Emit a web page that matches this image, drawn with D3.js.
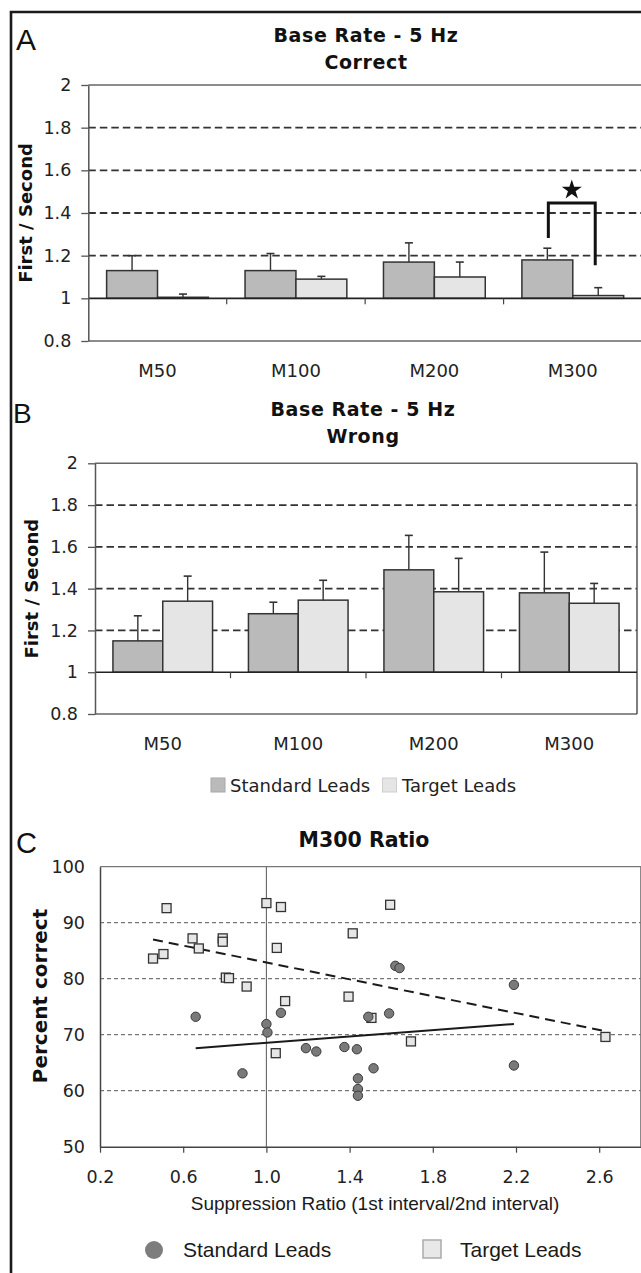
<!DOCTYPE html>
<html>
<head>
<meta charset="utf-8">
<script src="https://cdn.jsdelivr.net/npm/d3@7"></script>
<style>
  html, body { margin: 0; padding: 0; background: #fff; }
  svg { display: block; }
</style>
</head>
<body>
<script>
// ---- Bar chart data (ratio of first to second response) ----
const categories = ["M50", "M100", "M200", "M300"];
const seriesNames = ["Standard Leads", "Target Leads"];
const barTicks = [0.8, 1, 1.2, 1.4, 1.6, 1.8, 2];

const correctStandard = [1.13, 1.13, 1.17, 1.18];
const correctStandardErr = [0.07, 0.08, 0.09, 0.055];
const correctTarget = [1.005, 1.09, 1.10, 1.013];
const correctTargetErr = [0.015, 0.013, 0.07, 0.037];

const wrongStandard = [1.15, 1.28, 1.49, 1.38];
const wrongStandardErr = [0.12, 0.055, 0.165, 0.195];
const wrongTarget = [1.34, 1.345, 1.385, 1.33];
const wrongTargetErr = [0.12, 0.095, 0.16, 0.095];

// significance bracket on M300 (left end, top, right end)
const bracketValues = [1.283, 1.447, 1.155];

// ---- Scatter data: M300 suppression ratio vs percent correct ----
const standardRatio = [0.66, 1.0, 1.005, 1.07, 0.885, 1.19, 1.24, 1.375, 1.435, 1.44, 1.44, 1.44, 1.515, 1.49, 1.59, 1.62, 1.64, 2.19, 2.19];
const standardCorrect = [73.2, 71.9, 70.4, 73.9, 63.1, 67.6, 67.0, 67.8, 67.4, 62.2, 60.3, 59.1, 64.0, 73.2, 73.8, 82.3, 81.9, 78.9, 64.5];
const targetRatio = [0.52, 1.0, 1.07, 0.645, 0.675, 0.79, 0.79, 0.505, 0.455, 1.05, 0.805, 0.82, 0.905, 1.09, 1.045, 1.595, 1.415, 1.395, 1.505, 1.695, 2.63];
const targetCorrect = [92.6, 93.5, 92.8, 87.2, 85.4, 87.2, 86.6, 84.4, 83.6, 85.5, 80.2, 80.1, 78.6, 76.0, 66.7, 93.2, 88.1, 76.8, 73.0, 68.8, 69.6];
const standardFitX = [0.66, 2.19];
const standardFitY = [67.6, 71.9];
const targetFitX = [0.455, 2.62];
const targetFitY = [87.0, 70.7];
const ratioTicks = [0.2, 0.6, 1.0, 1.4, 1.8, 2.2, 2.6];
const correctTicks = [50, 60, 70, 80, 90, 100];

const FONT = "DejaVu Sans, Verdana, sans-serif";
const ARIAL = "Liberation Sans, Arial, sans-serif";
const STD_FILL = "#bababa";
const TGT_FILL = "#e5e5e5";

const W = 641, H = 1273;
const svg = d3.select("body").append("svg").attr("width", W).attr("height", H);
svg.append("rect").attr("width", W).attr("height", H).attr("fill", "#fff");

// outer figure frame
svg.append("path").attr("d", `M11,${H} V12 H${W}`)
  .attr("fill", "none").attr("stroke", "#1a1a1a").attr("stroke-width", 2.6);

function panelLetter(t, x, y, size) {
  svg.append("text").attr("x", x).attr("y", y).text(t)
    .attr("font-family", ARIAL).attr("font-size", size).attr("fill", "#111");
}

function barPanel(o) {
  const g = svg.append("g");
  const x = d3.scaleBand().domain(categories).range([o.x0, o.x1]).padding(0);
  const xs = d3.scaleBand().domain(seriesNames).range([0, x.bandwidth()])
    .paddingInner(0).paddingOuter(0.36);
  const y = d3.scaleLinear().domain([0.8, 2]).range([o.yBottom, o.yTop]);

  // dashed gridlines
  g.selectAll(".grid").data([1.2, 1.4, 1.6, 1.8]).join("line")
    .attr("x1", o.x0).attr("x2", o.x1)
    .attr("y1", d => y(d)).attr("y2", d => y(d))
    .attr("stroke", "#333").attr("stroke-width", 1.8).attr("stroke-dasharray", "7.5,4");

  // plot frame: top, bottom, optional right
  [2, 0.8].forEach(v => g.append("line")
    .attr("x1", o.x0).attr("x2", o.x1).attr("y1", y(v)).attr("y2", y(v))
    .attr("stroke", "#666").attr("stroke-width", 1.5));
  if (o.rightBorder) {
    g.append("line").attr("x1", o.x1).attr("x2", o.x1)
      .attr("y1", y(2)).attr("y2", y(0.8))
      .attr("stroke", "#555").attr("stroke-width", 1.5);
  }

  const rows = [];
  categories.forEach((c, i) => {
    rows.push({ c, s: seriesNames[0], v: o.std[i], e: o.stdErr[i], fill: STD_FILL });
    rows.push({ c, s: seriesNames[1], v: o.tgt[i], e: o.tgtErr[i], fill: TGT_FILL });
  });

  // bars grow from the 1.0 baseline
  g.selectAll(".bar").data(rows).join("rect")
    .attr("x", d => x(d.c) + xs(d.s))
    .attr("width", xs.bandwidth())
    .attr("y", d => y(d.v))
    .attr("height", d => y(1) - y(d.v))
    .attr("fill", d => d.fill).attr("stroke", "#333").attr("stroke-width", 1.5);

  // upper error bars
  const cx = d => x(d.c) + xs(d.s) + xs.bandwidth() / 2;
  g.selectAll(".err").data(rows).join("line")
    .attr("x1", cx).attr("x2", cx)
    .attr("y1", d => y(d.v)).attr("y2", d => y(d.v + d.e))
    .attr("stroke", "#333").attr("stroke-width", 1.4);
  g.selectAll(".cap").data(rows).join("line")
    .attr("x1", d => cx(d) - 4).attr("x2", d => cx(d) + 4)
    .attr("y1", d => y(d.v + d.e)).attr("y2", d => y(d.v + d.e))
    .attr("stroke", "#333").attr("stroke-width", 1.6);

  // baseline at 1
  g.append("line").attr("x1", o.x0).attr("x2", o.x1)
    .attr("y1", y(1)).attr("y2", y(1))
    .attr("stroke", "#222").attr("stroke-width", 1.6);
  // category separators below the baseline
  g.selectAll(".sep").data(categories.slice(1)).join("line")
    .attr("x1", d => x(d)).attr("x2", d => x(d))
    .attr("y1", y(1)).attr("y2", y(1) + 6)
    .attr("stroke", "#444").attr("stroke-width", 1.2);

  // y axis
  const ax = g.append("g").attr("transform", `translate(${o.x0},0)`)
    .call(d3.axisLeft(y).tickValues(barTicks).tickFormat(d => String(d))
      .tickSize(7).tickSizeOuter(0).tickPadding(10));
  ax.select(".domain").attr("stroke", "#555").attr("stroke-width", 1.5);
  ax.selectAll(".tick line").attr("stroke", "#555").attr("stroke-width", 1.3);
  ax.selectAll(".tick text").attr("font-family", FONT).attr("font-size", 17.5).attr("fill", "#222");

  // category labels
  g.selectAll(".cat").data(categories).join("text")
    .attr("x", d => x(d) + x.bandwidth() / 2).attr("y", o.catY)
    .attr("text-anchor", "middle").attr("font-family", FONT)
    .attr("font-size", 18).attr("fill", "#222").text(d => d);

  // titles
  o.title.forEach((t, i) => g.append("text")
    .attr("x", o.titleX).attr("y", o.titleY + i * 27)
    .attr("text-anchor", "middle").attr("font-family", FONT)
    .attr("font-weight", "bold").attr("font-size", 19).attr("letter-spacing", 0.6)
    .attr("fill", "#111").text(t));

  // y label
  g.append("text")
    .attr("transform", `translate(${o.ylabelX},${(y(2) + y(0.8)) / 2}) rotate(-90)`)
    .attr("text-anchor", "middle").attr("font-family", FONT)
    .attr("font-weight", "bold").attr("font-size", 18).attr("fill", "#111")
    .text("First / Second");

  return { g, x, xs, y };
}

// Panel A
panelLetter("A", 16, 50, 30);
const A = barPanel({
  x0: 88.3, x1: 642, yTop: 85, yBottom: 341,
  std: correctStandard, stdErr: correctStandardErr,
  tgt: correctTarget, tgtErr: correctTargetErr,
  title: ["Base Rate - 5 Hz", "Correct"], titleX: 366, titleY: 42,
  catY: 377, ylabelX: 32, rightBorder: false
});

// significance bracket and star on M300
{
  const c = "M300";
  const lx = A.x(c) + A.xs(seriesNames[0]) + A.xs.bandwidth() / 2 + 1;
  const rx = A.x(c) + A.xs(seriesNames[1]) + A.xs.bandwidth() / 2 - 3;
  const [vl, vt, vr] = bracketValues;
  A.g.append("path")
    .attr("d", `M${lx},${A.y(vl)} V${A.y(vt)} H${rx} V${A.y(vr)}`)
    .attr("fill", "none").attr("stroke", "#111").attr("stroke-width", 3);
  A.g.append("path")
    .attr("d", d3.symbol().type(d3.symbolStar).size(125)())
    .attr("transform", `translate(${(lx + rx) / 2},${A.y(vt) - 13})`)
    .attr("fill", "#111");
}

// Panel B
panelLetter("B", 13, 423, 28);
barPanel({
  x0: 95, x1: 637, yTop: 463.3, yBottom: 714,
  std: wrongStandard, stdErr: wrongStandardErr,
  tgt: wrongTarget, tgtErr: wrongTargetErr,
  title: ["Base Rate - 5 Hz", "Wrong"], titleX: 363, titleY: 416,
  catY: 750, ylabelX: 38, rightBorder: true
});

// Panel B legend
{
  const lg = svg.append("g");
  const items = [
    { name: seriesNames[0], fill: STD_FILL, stroke: "#a8a8a8", sx: 211, tx: 230 },
    { name: seriesNames[1], fill: TGT_FILL, stroke: "#cfcfcf", sx: 382.5, tx: 402 }
  ];
  lg.selectAll("rect").data(items).join("rect")
    .attr("x", d => d.sx).attr("y", 778).attr("width", 14).attr("height", 14)
    .attr("fill", d => d.fill).attr("stroke", d => d.stroke).attr("stroke-width", 1);
  lg.selectAll("text").data(items).join("text")
    .attr("x", d => d.tx).attr("y", 792)
    .attr("font-family", FONT).attr("font-size", 18).attr("fill", "#222")
    .text(d => d.name);
}

// Panel C: scatter
panelLetter("C", 16, 853, 29);
{
  const g = svg.append("g");
  const x = d3.scaleLinear().domain([0.2, 2.8]).range([100, 640.8]);
  const y = d3.scaleLinear().domain([50, 100]).range([1146.7, 866.7]);

  g.selectAll(".grid").data([60, 70, 80, 90]).join("line")
    .attr("x1", x(0.2)).attr("x2", x(2.8))
    .attr("y1", d => y(d)).attr("y2", d => y(d))
    .attr("stroke", "#555").attr("stroke-width", 1).attr("stroke-dasharray", "4,3");
  // frame top / right
  g.append("path").attr("d", `M${x(0.2)},${y(100)} H${x(2.8)} V${y(50)}`)
    .attr("fill", "none").attr("stroke", "#777").attr("stroke-width", 1.3);
  // reference line at ratio 1.0
  g.append("line").attr("x1", x(1)).attr("x2", x(1))
    .attr("y1", y(50)).attr("y2", y(100))
    .attr("stroke", "#666").attr("stroke-width", 1.1);

  // axes
  const ax = g.append("g").attr("transform", `translate(0,${y(50)})`)
    .call(d3.axisBottom(x).tickValues(ratioTicks).tickFormat(d3.format(".1f"))
      .tickSize(6).tickSizeOuter(0).tickPadding(18));
  ax.select(".domain").attr("stroke", "#444").attr("stroke-width", 1.5);
  ax.selectAll(".tick line").attr("stroke", "#444").attr("stroke-width", 1.2);
  ax.selectAll(".tick text").attr("font-family", FONT).attr("font-size", 17.5).attr("fill", "#222");

  const ay = g.append("g").attr("transform", `translate(${x(0.2)},0)`)
    .call(d3.axisLeft(y).tickValues(correctTicks).tickSize(0).tickSizeOuter(0).tickPadding(15));
  ay.select(".domain").attr("stroke", "#444").attr("stroke-width", 1.5);
  ay.selectAll(".tick text").attr("font-family", FONT).attr("font-size", 17.5).attr("fill", "#222");

  // trend lines
  const line = d3.line().x(d => x(d[0])).y(d => y(d[1]));
  g.append("path").datum(d3.zip(targetFitX, targetFitY)).attr("d", line)
    .attr("fill", "none").attr("stroke", "#1a1a1a").attr("stroke-width", 2)
    .attr("stroke-dasharray", "10,6");
  g.append("path").datum(d3.zip(standardFitX, standardFitY)).attr("d", line)
    .attr("fill", "none").attr("stroke", "#1a1a1a").attr("stroke-width", 2);

  // points
  g.selectAll(".tgt").data(d3.zip(targetRatio, targetCorrect)).join("rect")
    .attr("x", d => x(d[0]) - 4.5).attr("y", d => y(d[1]) - 4.5)
    .attr("width", 9).attr("height", 9)
    .attr("fill", "#e6e6e6").attr("stroke", "#333").attr("stroke-width", 1.3);
  g.selectAll(".std").data(d3.zip(standardRatio, standardCorrect)).join("circle")
    .attr("cx", d => x(d[0])).attr("cy", d => y(d[1])).attr("r", 4.7)
    .attr("fill", "#7a7a7a").attr("stroke", "#3a3a3a").attr("stroke-width", 1);

  // titles
  g.append("text").attr("x", 364).attr("y", 846.7).attr("text-anchor", "middle")
    .attr("font-family", FONT).attr("font-weight", "bold").attr("font-size", 20.5)
    .attr("fill", "#111").text("M300 Ratio");
  g.append("text")
    .attr("transform", `translate(47,996) rotate(-90)`)
    .attr("text-anchor", "middle").attr("font-family", FONT)
    .attr("font-weight", "bold").attr("font-size", 20).attr("fill", "#111")
    .text("Percent correct");
  g.append("text").attr("x", 375).attr("y", 1210).attr("text-anchor", "middle")
    .attr("font-family", ARIAL).attr("font-size", 19).attr("fill", "#1a1a1a")
    .text("Suppression Ratio (1st interval/2nd interval)");

  // legend
  g.append("circle").attr("cx", 154).attr("cy", 1250).attr("r", 9).attr("fill", "#7d7d7d");
  g.append("text").attr("x", 183).attr("y", 1257).attr("font-family", ARIAL)
    .attr("font-size", 21).attr("fill", "#1a1a1a").text(seriesNames[0]);
  g.append("rect").attr("x", 423).attr("y", 1240).attr("width", 18).attr("height", 18)
    .attr("fill", "#e8e8e8").attr("stroke", "#aaa").attr("stroke-width", 1.5);
  g.append("text").attr("x", 460).attr("y", 1257).attr("font-family", ARIAL)
    .attr("font-size", 21).attr("fill", "#1a1a1a").text(seriesNames[1]);
}
</script>
</body>
</html>
